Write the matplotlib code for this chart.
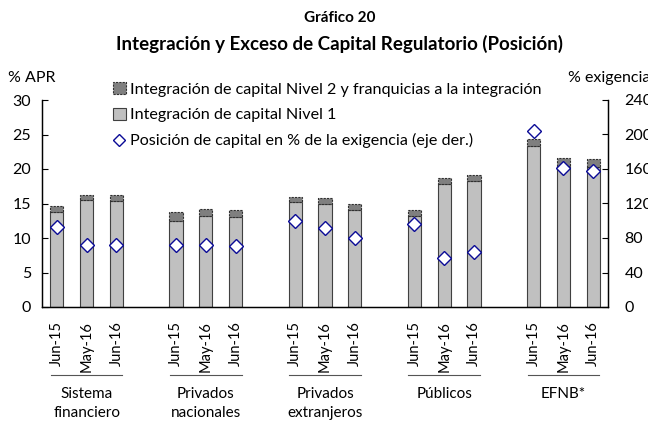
import numpy as np
import matplotlib
matplotlib.use("Agg")
import matplotlib.pyplot as plt
from matplotlib.patches import Patch
from matplotlib.lines import Line2D

plt.rcParams["font.family"] = ["Lato", "DejaVu Sans"]

groups = ["Sistema\nfinanciero", "Privados\nnacionales", "Privados\nextranjeros", "Públicos", "EFNB*"]
periods = ["Jun-15", "May-16", "Jun-16"]

# % APR (stack total and the Nivel 1 part)
total = [14.7, 16.3, 16.2,
         13.8, 14.2, 14.1,
         16.0, 15.8, 14.9,
         14.1, 18.7, 19.2,
         24.3, 21.6, 21.4]
nivel1 = [13.8, 15.5, 15.3,
          12.5, 13.2, 13.1,
          15.2, 14.9, 14.1,
          13.2, 17.8, 18.2,
          23.3, 20.4, 20.3]
# % of requirement (right axis)
posicion = [93, 72, 72,
            72, 72, 71,
            100, 92, 80,
            96, 57, 64,
            204, 161, 158]

nivel2 = [t - n for t, n in zip(total, nivel1)]
x = np.array([g * 4 + i for g in range(len(groups)) for i in range(len(periods))])
labels = periods * len(groups)

fig = plt.figure(figsize=(6.48, 4.21), dpi=100)
ax = fig.add_axes([42 / 648, 1 - 307 / 421, 566 / 648, 207 / 421])
ax2 = ax.twinx()

w = 0.44
ax.bar(x, nivel1, width=w, color="#C0C0C0", edgecolor="#404040", linewidth=0.8, zorder=2)
ax.bar(x, nivel2, bottom=nivel1, width=w, color="#7F7F7F", edgecolor="#303030",
       linewidth=0.8, linestyle=(0, (2, 1)), zorder=2)
ax2.plot(x, posicion, linestyle="none", marker="D", markersize=7.5,
         markerfacecolor="white", markeredgecolor="#0A0A96", markeredgewidth=1.0, zorder=3)

ax.set_xlim(-0.5, x.max() + 0.5)
ax.set_ylim(0, 30)
ax2.set_ylim(0, 240)
ax.set_yticks(np.arange(0, 31, 5))
ax2.set_yticks(np.arange(0, 241, 40))
ax.set_xticks(x)
ax.set_xticklabels(labels, rotation=90, fontsize=10.5)
ax.tick_params(axis="x", length=0, pad=10)
ax.tick_params(axis="y", direction="in", length=4, labelsize=11.5, pad=8)
ax2.tick_params(axis="y", direction="in", length=4, labelsize=11.5, pad=12)
for a in (ax, ax2):
    a.spines["top"].set_visible(False)
    for s in a.spines.values():
        s.set_linewidth(0.9)

# group underlines and names
for g, name in enumerate(groups):
    c = g * 4 + 1
    ax.plot([c - 1.2, c + 1.2], [-0.33, -0.33], transform=ax.get_xaxis_transform(),
            color="#555555", linewidth=0.8, clip_on=False)
    ax.text(c, -0.385, name, transform=ax.get_xaxis_transform(), ha="center", va="top",
            fontsize=11, linespacing=1.45)

fig.text(340 / 648, 1 - 18 / 421, "Gráfico 20", ha="center", va="center",
         fontsize=11, fontweight="bold")
fig.text(340 / 648, 1 - 44 / 421, "Integración y Exceso de Capital Regulatorio (Posición)",
         ha="center", va="center", fontsize=13.5, fontweight="bold")
fig.text(8 / 648, 1 - 78 / 421, "% APR", ha="left", va="center", fontsize=11.5)
fig.text(568 / 648, 1 - 78 / 421, "% exigencia", ha="left", va="center", fontsize=11.5)

handles = [
    Patch(facecolor="#7F7F7F", edgecolor="#303030", linestyle=(0, (2, 1)), linewidth=0.8),
    Patch(facecolor="#C0C0C0", edgecolor="#404040", linewidth=0.8),
    Line2D([], [], linestyle="none", marker="D", markersize=6.5, markerfacecolor="white",
           markeredgecolor="#0A0A96", markeredgewidth=1.0),
]
names = ["Integración de capital Nivel 2 y franquicias a la integración",
         "Integración de capital Nivel 1",
         "Posición de capital en % de la exigencia (eje der.)"]
fig.legend(handles, names, loc="upper left", bbox_to_anchor=(107 / 648, 1 - 76 / 421),
           frameon=False, fontsize=11.6, handlelength=0.75, handleheight=0.75,
           handletextpad=0.25, labelspacing=0.68, borderaxespad=0)

fig.savefig("out.png", dpi=100)
